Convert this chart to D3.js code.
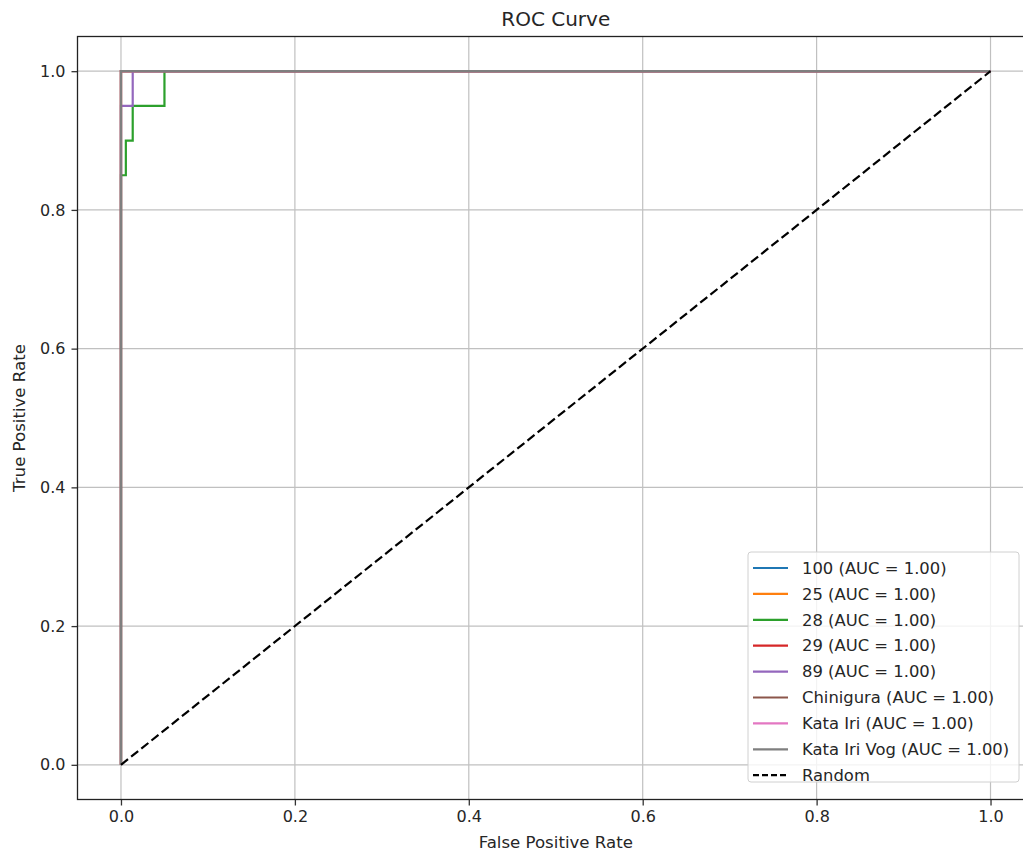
<!DOCTYPE html>
<html>
<head>
<meta charset="utf-8">
<script src="https://cdn.jsdelivr.net/npm/d3@7"></script>
<style>
  body { margin: 0; background: #fff; overflow: hidden; }
  text { font-family: "DejaVu Sans", sans-serif; fill: #262626; }
</style>
</head>
<body>
<div id="chart-area"></div>
<script>

// SVG Size
var width = 1023,
		height = 851;

// Class names and colors (tab10)
var classNames = ["100", "25", "28", "29", "89", "Chinigura", "Kata Iri", "Kata Iri Vog"];
var classColors = ["#1f77b4", "#ff7f0e", "#2ca02c", "#d62728", "#9467bd", "#8c564b", "#e377c2", "#7f7f7f"];
var aucValues = [1.00, 1.00, 1.00, 1.00, 1.00, 1.00, 1.00, 1.00];

// ROC points per class
var fprValues = [
	[0, 0, 1],
	[0, 0, 1],
	[0, 0, 0.0056, 0.0056, 0.0135, 0.0135, 0.05, 0.05, 1],
	[0, 0, 1],
	[0, 0, 0.0135, 0.0135, 1],
	[0, 0, 1],
	[0, 0, 1],
	[0, 0, 1]
];
var tprValues = [
	[0, 1, 1],
	[0, 1, 1],
	[0, 0.85, 0.85, 0.9, 0.9, 0.95, 0.95, 1, 1],
	[0, 1, 1],
	[0, 0.95, 0.95, 1, 1],
	[0, 1, 1],
	[0, 1, 1],
	[0, 1, 1]
];

var ticks = [0, 0.2, 0.4, 0.6, 0.8, 1.0];

// Plot area (right edge falls just outside the picture)
var plotLeft = 77.5, plotRight = 1034, plotTop = 36.5, plotBottom = 799.5;

var svg = d3.select("#chart-area").append("svg")
		.attr("width", width)
		.attr("height", height)
		.style("display", "block");

// Scales (matplotlib-style 5% margins)
var x = d3.scaleLinear()
	.domain([-0.05, 1.05])
	.range([plotLeft, plotRight]);

var y = d3.scaleLinear()
	.domain([-0.05, 1.05])
	.range([plotBottom, plotTop]);

// Grid
svg.append("g").selectAll("line")
	.data(ticks)
	.enter().append("line")
	.attr("x1", function(d){ return x(d); })
	.attr("x2", function(d){ return x(d); })
	.attr("y1", plotTop).attr("y2", plotBottom)
	.attr("stroke", "#c0c0c0").attr("stroke-width", 1.2);

svg.append("g").selectAll("line")
	.data(ticks)
	.enter().append("line")
	.attr("y1", function(d){ return y(d); })
	.attr("y2", function(d){ return y(d); })
	.attr("x1", plotLeft).attr("x2", plotRight)
	.attr("stroke", "#c0c0c0").attr("stroke-width", 1.2);

// Axes
var xAxis = d3.axisBottom(x).tickValues(ticks).tickFormat(d3.format(".1f")).tickSize(6).tickPadding(5);
var yAxis = d3.axisLeft(y).tickValues(ticks).tickFormat(d3.format(".1f")).tickSize(6).tickPadding(6);

var gx = svg.append("g")
	.attr("transform", "translate(0," + plotBottom + ")")
	.call(xAxis);
var gy = svg.append("g")
	.attr("transform", "translate(" + plotLeft + ",0)")
	.call(yAxis);

[gx, gy].forEach(function(g){
	g.select(".domain").remove();
	g.selectAll(".tick line").attr("stroke", "#333").attr("stroke-width", 1.3);
	g.selectAll(".tick text").style("font-size", "16px").style("font-family", "DejaVu Sans").attr("fill", "#262626");
});

// Lines
var line = d3.line()
	.x(function(d){ return x(d[0]); })
	.y(function(d){ return y(d[1]); });

var plot = svg.append("g");

classNames.forEach(function(name, i){
	var pts = fprValues[i].map(function(f, j){ return [f, tprValues[i][j]]; });
	plot.append("path")
		.datum(pts)
		.attr("d", line)
		.attr("fill", "none")
		.attr("stroke", classColors[i])
		.attr("stroke-width", 2.2);
});

// Random diagonal
plot.append("path")
	.datum([[0, 0], [1, 1]])
	.attr("d", line)
	.attr("fill", "none")
	.attr("stroke", "#000")
	.attr("stroke-width", 2.2)
	.attr("stroke-dasharray", "9,4");

// Frame
svg.append("rect")
	.attr("x", plotLeft).attr("y", plotTop)
	.attr("width", plotRight - plotLeft)
	.attr("height", plotBottom - plotTop)
	.attr("fill", "none")
	.attr("stroke", "#222").attr("stroke-width", 1.3);

// Title and labels
var midX = (plotLeft + plotRight) / 2;

svg.append("text")
	.attr("x", midX).attr("y", 26)
	.attr("text-anchor", "middle")
	.style("font-size", "20px")
	.text("ROC Curve");

svg.append("text")
	.attr("x", midX).attr("y", 848)
	.attr("text-anchor", "middle")
	.style("font-size", "16.6px")
	.text("False Positive Rate");

svg.append("text")
	.attr("transform", "translate(25," + ((plotTop + plotBottom) / 2) + ") rotate(-90)")
	.attr("text-anchor", "middle")
	.style("font-size", "16.6px")
	.text("True Positive Rate");

// Legend
var legendItems = classNames.map(function(n, i){
	return {label: n + " (AUC = " + aucValues[i].toFixed(2) + ")", color: classColors[i], dash: null};
});
legendItems.push({label: "Random", color: "#000", dash: "6,3"});

var legend = svg.append("g").attr("transform", "translate(748,552)");
legend.append("rect")
	.attr("width", 271).attr("height", 230)
	.attr("rx", 3)
	.attr("fill", "#fff").attr("fill-opacity", 0.8)
	.attr("stroke", "#d0d0d0");

var rows = legend.selectAll("g.row")
	.data(legendItems)
	.enter().append("g")
	.attr("transform", function(d, i){ return "translate(0," + (16 + i * 25.9) + ")"; });

rows.append("line")
	.attr("x1", 5).attr("x2", 40)
	.attr("stroke", function(d){ return d.color; })
	.attr("stroke-width", 2.2)
	.attr("stroke-dasharray", function(d){ return d.dash; });

rows.append("text")
	.attr("x", 54).attr("dy", "0.35em")
	.style("font-size", "16.4px")
	.text(function(d){ return d.label; });

</script>
</body>
</html>
